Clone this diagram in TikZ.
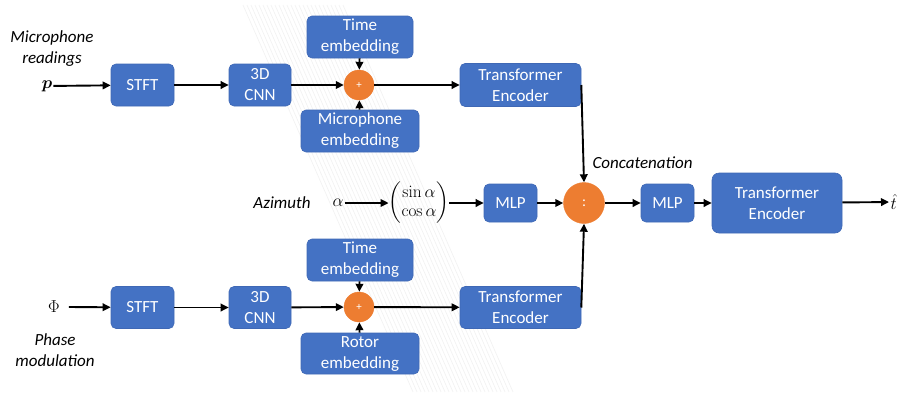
\documentclass[tikz,border=0pt]{standalone}
\usepackage{amsmath}
\usepackage{bm}
\usepackage[no-math]{fontspec}
\setmainfont{Carlito}
\setsansfont{Carlito}
\usetikzlibrary{arrows.meta}
\definecolor{boxblue}{HTML}{4472C4}
\definecolor{boxedge}{HTML}{3F68B5}
\definecolor{dotorange}{HTML}{ED7D31}
\definecolor{stripe}{HTML}{F2F2F2}
\tikzset{
  blk/.style={fill=boxblue, draw=boxedge, line width=0.6pt, rounded corners=5pt,
    text=white, align=center, inner sep=0pt, font=\fontsize{17}{21}\selectfont},
  opnode/.style={circle, fill=dotorange, draw=dotorange, inner sep=0pt, text=white},
  lbl/.style={align=center, font=\fontsize{17}{21}\selectfont\itshape},
  mth/.style={inner sep=1pt, font=\fontsize{18}{20}\selectfont},
  arr/.style={-{Triangle[length=8pt,width=7.5pt]}, line width=1.9pt, black},
}
\begin{document}
\begin{tikzpicture}[x=1pt,y=-1pt]
\useasboundingbox (0,0) rectangle (902,392);
% faint stripe band
\foreach \i in {0,...,25}{
  \draw[stripe, line width=0.7pt] ({243+4*\i},5) -- ({243+4*\i+170},392);
}
% top row
\node[lbl] (miclbl) at (52,49) {Microphone\\readings};
\node[mth] (p) at (47,86) {$\bm{p}$};
\node[blk, minimum width=63pt, minimum height=42pt] (stft1) at (142.5,85) {STFT};
\node[blk, minimum width=62pt, minimum height=42pt] (cnn1) at (260,85) {3D\\CNN};
\node[opnode, minimum size=30pt, font=\fontsize{11}{11}\selectfont] (add1) at (359,85) {+};
\node[blk, minimum width=106pt, minimum height=42pt] (time1) at (360,37) {Time\\embedding};
\node[blk, minimum width=118pt, minimum height=42pt] (micemb) at (360,131) {Microphone\\embedding};
\node[blk, minimum width=121pt, minimum height=43pt] (te1) at (520.5,85) {Transformer\\Encoder};
% middle row
\node[lbl] (azlbl) at (282,203) {Azimuth};
\node[mth] (alpha) at (338,203) {$\alpha$};
\node[mth, inner sep=0pt] (vec) at (419,203) {\fontsize{16}{19}\selectfont$\begin{pmatrix}\sin\alpha\\ \cos\alpha\end{pmatrix}$};
\node[blk, minimum width=53pt, minimum height=38pt] (mlp1) at (510.5,203) {MLP};
\node[opnode, minimum size=41pt, font=\fontsize{15}{15}\selectfont] (cat) at (584,203) {:};
\node[lbl, anchor=west] (catlbl) at (589,163) {Concatenation};
\node[blk, minimum width=53pt, minimum height=38pt] (mlp2) at (667.5,203) {MLP};
\node[blk, minimum width=130pt, minimum height=60pt, rounded corners=7pt] (te3) at (777,203) {Transformer\\Encoder};
\node[mth, anchor=west, inner sep=0.5pt] (that) at (890,202) {$\hat{t}$};
% bottom row
\node[mth] (phi) at (54,307) {$\Phi$};
\node[lbl] (phaselbl) at (55,350) {Phase\\modulation};
\node[blk, minimum width=63pt, minimum height=42pt] (stft2) at (142.5,307.5) {STFT};
\node[blk, minimum width=62pt, minimum height=42pt] (cnn2) at (260,307.5) {3D\\CNN};
\node[opnode, minimum size=30pt, font=\fontsize{11}{11}\selectfont] (add2) at (359,307) {+};
\node[blk, minimum width=106pt, minimum height=42pt] (time2) at (360,260) {Time\\embedding};
\node[blk, minimum width=118pt, minimum height=41pt] (rotemb) at (360,353.5) {Rotor\\embedding};
\node[blk, minimum width=121pt, minimum height=42pt] (te2) at (520.5,307.5) {Transformer\\Encoder};
% connectors top
\draw[arr] (p) -- (stft1);
\draw[arr] (stft1) -- (cnn1);
\draw[arr] (cnn1) -- (add1);
\draw[arr] (time1) -- (add1);
\draw[arr] (micemb) -- (add1);
\draw[arr] (add1) -- (te1);
\draw[arr] (te1.east) -- (cat.north);
% connectors middle
\draw[arr] (alpha) -- (vec);
\draw[arr] (vec) -- (mlp1);
\draw[arr] (mlp1) -- (cat);
\draw[arr] (cat) -- (mlp2);
\draw[arr] (mlp2) -- (te3);
\draw[arr, shorten >=1pt] (te3) -- (that);
% connectors bottom
\draw[arr] ([xshift=8pt]phi.east) -- (stft2);
\draw[arr] (stft2) -- (cnn2);
\draw[arr] (cnn2) -- (add2);
\draw[arr] (time2) -- (add2);
\draw[arr] (rotemb) -- (add2);
\draw[arr] (add2) -- (te2);
\draw[arr] (te2.east) -- (cat.south);
\end{tikzpicture}
\end{document}
